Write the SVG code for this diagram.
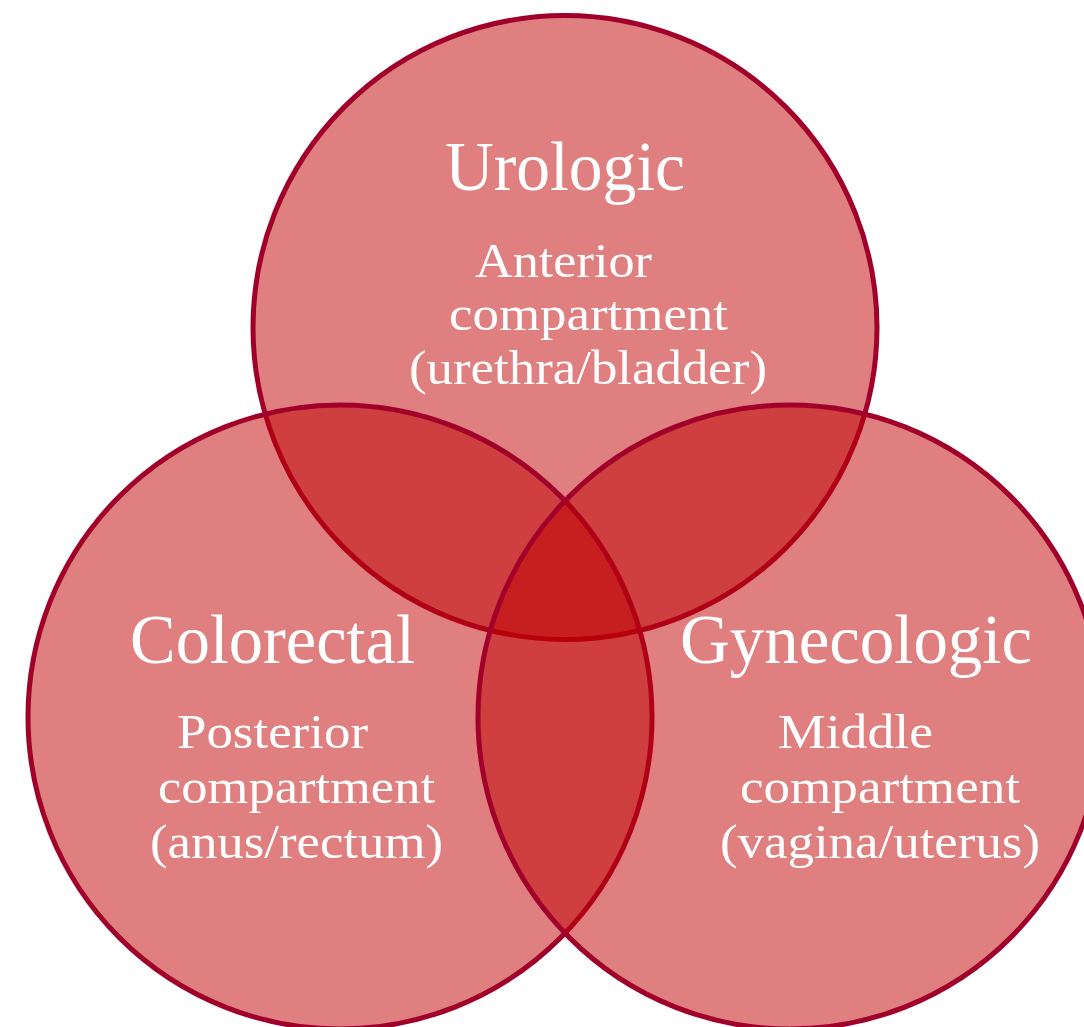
<svg xmlns="http://www.w3.org/2000/svg" width="1084" height="1027" viewBox="0 0 1084 1027">
  <style>
    .c { fill: rgb(191,0,0); fill-opacity: 0.5; stroke: #A0002A; stroke-width: 5; }
    .t { fill: #FFFFFF; font-family: "Liberation Serif", "Times New Roman", serif; }
    .h { font-size: 70px; }
    .s { font-size: 49px; }
  </style>
  <rect width="1084" height="1027" fill="#FFFFFF"/>
  <g id="urologic">
    <circle class="c" cx="565" cy="327.5" r="312"/>
  </g>
  <g id="colorectal">
    <circle class="c" cx="340" cy="717" r="312"/>
  </g>
  <g id="gynecologic">
    <circle class="c" cx="790" cy="717" r="312"/>
  </g>
  <g id="connectors"></g>
  <g id="labels">
    <text class="t h" x="445" y="190" textLength="240" lengthAdjust="spacingAndGlyphs">Urologic</text>
    <text class="t s" x="475" y="277" textLength="177" lengthAdjust="spacingAndGlyphs">Anterior</text>
    <text class="t s" x="449" y="330" textLength="279" lengthAdjust="spacingAndGlyphs">compartment</text>
    <text class="t s" x="409" y="384" textLength="358" lengthAdjust="spacingAndGlyphs">(urethra/bladder)</text>

    <text class="t h" x="130" y="663" textLength="285" lengthAdjust="spacingAndGlyphs">Colorectal</text>
    <text class="t s" x="177" y="748" textLength="191" lengthAdjust="spacingAndGlyphs">Posterior</text>
    <text class="t s" x="158" y="803" textLength="277" lengthAdjust="spacingAndGlyphs">compartment</text>
    <text class="t s" x="150" y="858" textLength="293" lengthAdjust="spacingAndGlyphs">(anus/rectum)</text>

    <text class="t h" x="680" y="663" textLength="352" lengthAdjust="spacingAndGlyphs">Gynecologic</text>
    <text class="t s" x="778" y="748" textLength="155" lengthAdjust="spacingAndGlyphs">Middle</text>
    <text class="t s" x="740" y="803" textLength="280" lengthAdjust="spacingAndGlyphs">compartment</text>
    <text class="t s" x="720" y="858" textLength="320" lengthAdjust="spacingAndGlyphs">(vagina/uterus)</text>
  </g>
</svg>
